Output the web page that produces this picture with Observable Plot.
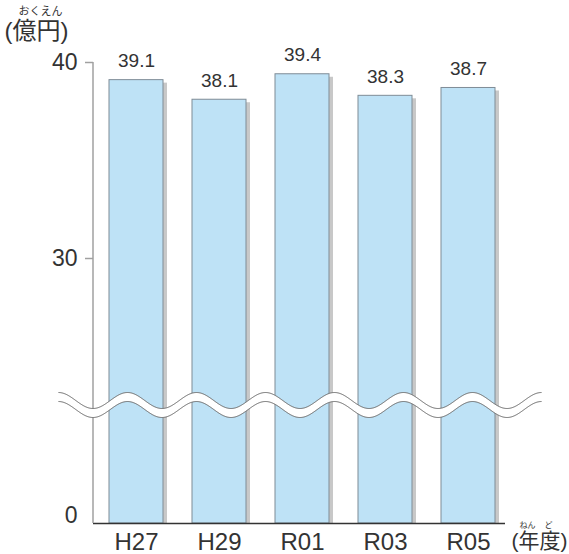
<!DOCTYPE html>
<html>
<head>
<meta charset="utf-8">
<script src="https://cdn.jsdelivr.net/npm/d3@7"></script>
<script src="https://cdn.jsdelivr.net/npm/@observablehq/plot@0.6"></script>
<style>
  html, body { margin: 0; padding: 0; background: #fff; }
</style>
</head>
<body>
<div id="chart"></div>
<script>
const categories = ["H27", "H29", "R01", "R03", "R05"];
const values = [39.1, 38.1, 39.4, 38.3, 38.7];
const valueLabels = ["39.1", "38.1", "39.4", "38.3", "38.7"];
const yTicks = [30, 40];
const zeroTick = [0];
const breakValue = 22.5;
const unitY = "(億円)";
const unitYRuby = "おくえん";
const unitX = "(年度)";
const unitXRuby1 = "ねん";
const unitXRuby2 = "ど";

const data = categories.map((c, i) => ({year: c, value: values[i], label: valueLabels[i]}));
const font = "'Liberation Sans', Arial, Helvetica, 'Noto Sans CJK JP', sans-serif";

const chart = Plot.plot({
  width: 569,
  height: 554,
  marginLeft: 93,
  marginRight: 64,
  marginTop: 62,
  marginBottom: 31,
  style: {fontFamily: font, background: "#fff", color: "#333", overflow: "visible"},
  x: {type: "band", domain: categories, range: [93, 510.5], paddingInner: 0.353, paddingOuter: 0.1765, axis: null, label: null},
  y: {type: "linear", domain: [0, breakValue, 40], range: [523, 405, 62], axis: null, label: null},
  marks: [
    Plot.barY(data, {x: "year", y: "value", dx: 4, insetTop: 3, fill: "#c8c8c8"}),
    Plot.barY(data, {x: "year", y: "value", fill: "#bee2f6", stroke: "#7f8c96", strokeWidth: 1}),
    Plot.ruleY([0], {stroke: "#333", strokeWidth: 1.5}),
    Plot.text(data, {x: "year", y: "value", text: "label", dy: -19, fontSize: 19, fill: "#333"}),
    Plot.text(categories, {x: d => d, y: 0, text: d => d, dy: 19, fontSize: 24, fill: "#333"}),
    Plot.axisY({ticks: yTicks, label: null, tickSize: 8, tickPadding: 8, fontSize: 23, fill: "#333", stroke: "#a0a0a0", strokeWidth: 1.5, tickFormat: d => String(d)}),
    Plot.axisY({ticks: zeroTick, label: null, tickSize: 0, tickPadding: 16, dy: -8, fontSize: 23, fill: "#333", tickFormat: d => String(d)}),
    Plot.text([unitY], {frameAnchor: "top-left", lineAnchor: "middle", text: d => d, textAnchor: "start", dx: -89, dy: -31, fontSize: 24, fill: "#333"}),
    Plot.text([unitYRuby], {frameAnchor: "top-left", lineAnchor: "middle", text: d => d, textAnchor: "middle", dx: -53, dy: -51, fontSize: 11, fill: "#333"}),
    Plot.text([unitX], {frameAnchor: "bottom-right", lineAnchor: "middle", text: d => d, textAnchor: "start", dx: 6, dy: 18, fontSize: 21, fill: "#333"}),
    Plot.text([unitXRuby1], {frameAnchor: "bottom-right", lineAnchor: "middle", text: d => d, textAnchor: "middle", dx: 22, dy: 2, fontSize: 8, fill: "#333"}),
    Plot.text([unitXRuby2], {frameAnchor: "bottom-right", lineAnchor: "middle", text: d => d, textAnchor: "middle", dx: 43, dy: 2, fontSize: 8, fill: "#333"})
  ]
});

document.getElementById("chart").appendChild(chart);

// y axis line and scale break (decorations derived from the scales)
const ys = chart.scale("y");
const xs = chart.scale("x");
const svg = d3.select(chart);
const axisX = xs.range[0];
svg.append("line")
  .attr("x1", axisX).attr("x2", axisX)
  .attr("y1", ys.apply(40)).attr("y2", ys.apply(0))
  .attr("stroke", "#a0a0a0").attr("stroke-width", 1.5);

const period = 69, amp = 8, thick = 9, nPeriods = 7;
const yc = ys.apply(breakValue);
const x0 = axisX - period / 2;
const x1 = x0 + period * nPeriods;
const topPts = [], botPts = [];
for (let x = x0; x <= x1 + 0.01; x += 1) {
  const t = yc - thick / 2 - amp * Math.cos(2 * Math.PI * (x - x0) / period);
  topPts.push([x, t]);
  botPts.push([x, t + thick]);
}
const line = d3.line();
svg.append("path")
  .attr("d", line(topPts.concat(botPts.slice().reverse())) + "Z")
  .attr("fill", "#fff").attr("stroke", "none");
svg.append("path").attr("d", line(topPts)).attr("fill", "none").attr("stroke", "#666").attr("stroke-width", 1);
svg.append("path").attr("d", line(botPts)).attr("fill", "none").attr("stroke", "#666").attr("stroke-width", 1);
</script>
</body>
</html>
